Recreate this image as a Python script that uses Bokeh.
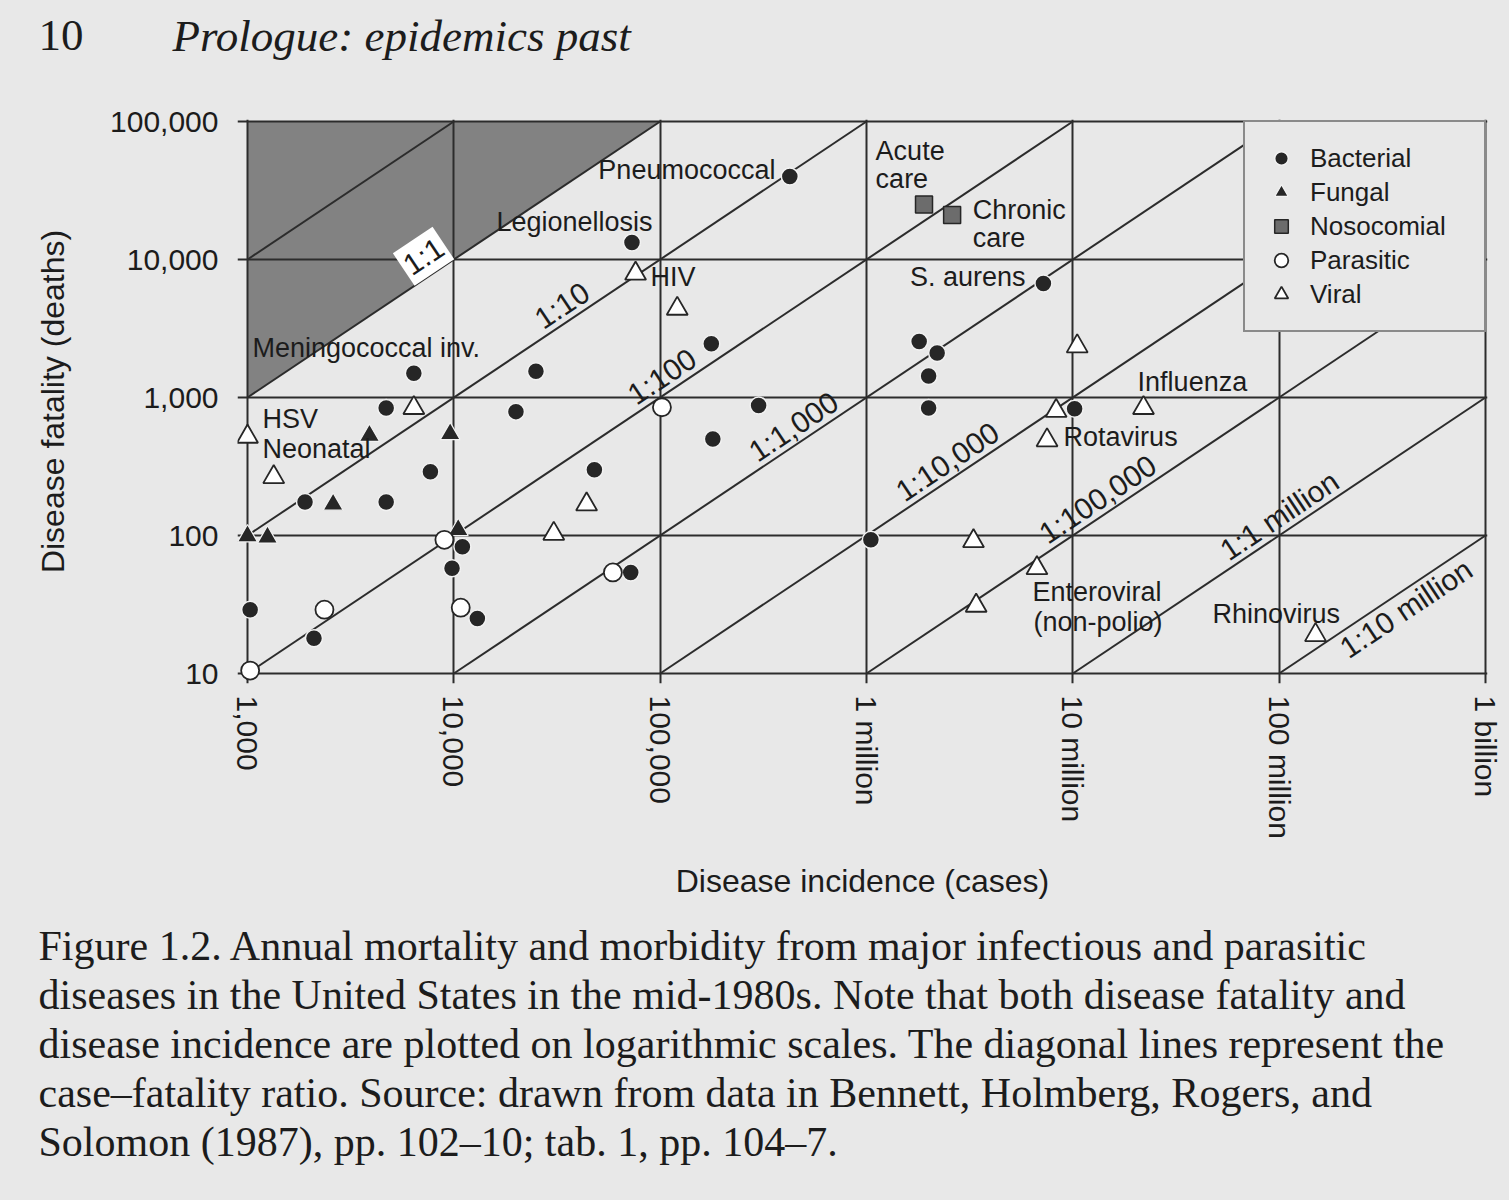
import math
from bokeh.plotting import figure
from bokeh.layouts import column
from bokeh.models import FixedTicker, Label, Legend, LegendItem, Range1d
from bokeh.core.properties import value
from bokeh.embed import file_html
from bokeh.resources import INLINE

# ------------------------------------------------------------------ data
incidence_ticks = [1e3, 1e4, 1e5, 1e6, 1e7, 1e8, 1e9]
incidence_tick_labels = ["1,000", "10,000", "100,000", "1 million",
                         "10 million", "100 million", "1 billion"]
fatality_ticks = [10, 100, 1000, 10000, 100000]
fatality_tick_labels = ["10", "100", "1,000", "10,000", "100,000"]

bacterial_cases = [6400, 4700, 7700, 1900, 4700, 1030, 2100, 11000, 9800,
                   25000, 20000, 48000, 13000, 72000, 425000, 177000, 300000,
                   180000, 7.2e6, 1.8e6, 2.2e6, 2.0e6, 2.0e6, 1.02e7, 73000,
                   1.05e6]
bacterial_deaths = [1500, 840, 290, 175, 175, 29, 18, 83, 58,
                    1550, 790, 300, 25, 54, 40000, 2450, 875,
                    500, 6700, 2550, 2100, 1430, 840, 830, 13300,
                    93]
fungal_cases = [3900, 9600, 2600, 1000, 1250, 10500]
fungal_deaths = [530, 545, 168, 99, 97, 110]
nosocomial_cases = [1.9e6, 2.6e6]
nosocomial_deaths = [25000, 21000]
parasitic_cases = [9000, 2360, 1030, 10800, 102000, 59000]
parasitic_deaths = [93, 29, 10.5, 30, 850, 54]
viral_cases = [6400, 1000, 1340, 44000, 30500, 76000, 121000, 1.05e7, 8.3e6,
               7.5e6, 2.2e7, 3.3e6, 6.7e6, 3.4e6, 1.5e8]
viral_deaths = [840, 520, 265, 168, 103, 7900, 4400, 2350, 800,
                490, 840, 91, 58, 31, 19]

# case-fatality ratio lines: deaths = cases * 10**exp
ratio_exponents = [1, 0, -1, -2, -3, -4, -5, -6, -7]
ratio_label_texts = ["1:1", "1:10", "1:100", "1:1,000", "1:10,000",
                     "1:100,000", "1:1 million", "1:10 million"]
ratio_label_exps = [0, -1, -2, -3, -4, -5, -6, -7]
ratio_label_cases = [8050, 37000, 113000, 490000, 2.73e6, 1.46e7, 1.11e8, 3.72e8]

annot_texts = ["Pneumococcal", "Legionellosis", "Acute", "care", "Chronic",
               "care", "S. aurens", "HIV", "Meningococcal inv.", "HSV",
               "Neonatal", "Influenza", "Rotavirus", "Enteroviral",
               "(non-polio)", "Rhinovirus"]

header_texts = ["10", "Prologue: epidemics past"]
caption_lines = [
    "Figure 1.2. Annual mortality and morbidity from major infectious and parasitic",
    "diseases in the United States in the mid-1980s. Note that both disease fatality and",
    "disease incidence are plotted on logarithmic scales. The diagonal lines represent the",
    "case\u2013fatality ratio. Source: drawn from data in Bennett, Holmberg, Rogers, and",
    "Solomon (1987), pp. 102\u201310; tab. 1, pp. 104\u20137.",
]

# ------------------------------------------------------------------ geometry / style
PAPER = "#e8e8e8"
INK = "#1c1c1c"
LINE = "#2c2c2c"
SANS = "Liberation Sans"
SERIF = "Liberation Serif"

W = 1509
H_HEAD, H_MAIN, H_CAP = 100, 815, 285

XMIN, XMAX = incidence_ticks[0], incidence_ticks[-1]
YMIN, YMAX = fatality_ticks[0], fatality_ticks[-1]
B_LEFT, B_RIGHT, B_TOP, B_BOTTOM = 237, 22, 19, 232
PAD_L, PAD_B, PAD_R, PAD_T = 10, 10, 2, 2
frame_w = W - B_LEFT - B_RIGHT
frame_h = H_MAIN - B_TOP - B_BOTTOM
pxd_x = (frame_w - PAD_L - PAD_R) / math.log10(XMAX / XMIN)
pxd_y = (frame_h - PAD_T - PAD_B) / math.log10(YMAX / YMIN)
x_range = (XMIN * 10 ** (-PAD_L / pxd_x), XMAX * 10 ** (PAD_R / pxd_x))
y_range = (YMIN * 10 ** (-PAD_B / pxd_y), YMAX * 10 ** (PAD_T / pxd_y))
theta = math.atan2(pxd_y, pxd_x)

p = figure(width=W, height=H_MAIN, x_axis_type="log", y_axis_type="log",
           x_range=x_range, y_range=y_range, output_backend="svg",
           toolbar_location=None, min_border_left=B_LEFT,
           min_border_right=B_RIGHT, min_border_top=B_TOP,
           min_border_bottom=B_BOTTOM)
p.background_fill_color = PAPER
p.border_fill_color = PAPER
p.outline_line_color = None

# decade grid (its lines also stick out past the data box like ticks)
for g, t in ((p.xgrid[0], incidence_ticks), (p.ygrid[0], fatality_ticks)):
    g.ticker = FixedTicker(ticks=t)
    g.grid_line_color = LINE
    g.grid_line_width = 2
    g.grid_line_alpha = 1

xa, ya = p.xaxis[0], p.yaxis[0]
xa.ticker = FixedTicker(ticks=incidence_ticks)
ya.ticker = FixedTicker(ticks=fatality_ticks)
xa.major_label_overrides = {int(t): l for t, l in zip(incidence_ticks, incidence_tick_labels)}
ya.major_label_overrides = {int(t): l for t, l in zip(fatality_ticks, fatality_tick_labels)}
xa.major_label_orientation = "vertical"
for ax in (xa, ya):
    ax.axis_line_color = None
    ax.major_tick_line_color = None
    ax.minor_tick_line_color = None
    ax.major_tick_out = 0
    ax.major_tick_in = 0
    ax.major_label_text_font = SANS
    ax.major_label_text_font_size = "30px"
    ax.major_label_text_color = INK
    ax.axis_label_text_font = SANS
    ax.axis_label_text_font_size = "32px"
    ax.axis_label_text_font_style = "normal"
    ax.axis_label_text_color = INK
xa.major_label_standoff = 12
ya.major_label_standoff = 19
xa.axis_label = "Disease incidence (cases)"
ya.axis_label = "Disease fatality (deaths)"
xa.axis_label_standoff = 21
ya.axis_label_standoff = 36

# shaded region: fatality above incidence (ratio above 1:1)
p.patch([XMIN, YMAX, XMIN], [XMIN, YMAX, YMAX], fill_color="#828282",
        line_color=None, level="image")

# case-fatality diagonals clipped to the data box
x0s, y0s, x1s, y1s = [], [], [], []
for e in ratio_exponents:
    k = 10.0 ** e
    a0 = max(XMIN, YMIN / k)
    a1 = min(XMAX, YMAX / k)
    x0s.append(a0); y0s.append(a0 * k)
    x1s.append(a1); y1s.append(a1 * k)
p.segment(x0s, y0s, x1s, y1s, line_color=LINE, line_width=2)

# ratio labels along the lines
for txt, e, cx in zip(ratio_label_texts, ratio_label_exps, ratio_label_cases):
    below = txt == "1:10 million"
    lab = Label(x=cx, y=cx * 10.0 ** e, text=txt, angle=theta, angle_units="rad",
                text_align="center", text_baseline="top" if below else "bottom",
                text_font=SANS, text_font_size="30px", text_color=INK)
    if txt == "1:1":
        lab.background_fill_color = "white"
        lab.padding = 3
    p.add_layout(lab)

# data points
halo = "#f2f2f2"
r_b = p.scatter(bacterial_cases, bacterial_deaths, marker="circle", size=17,
                fill_color="#262626", line_color=halo, line_width=1.5)
r_f = p.scatter(fungal_cases, fungal_deaths, marker="triangle", size=20,
                fill_color="#262626", line_color=halo, line_width=1.2)
r_n = p.scatter(nosocomial_cases, nosocomial_deaths, marker="square", size=17,
                fill_color="#6c6c6c", line_color="#262626", line_width=1.5)
r_p = p.scatter(parasitic_cases, parasitic_deaths, marker="circle", size=18,
                fill_color="white", line_color="#262626", line_width=1.8)
r_v = p.scatter(viral_cases, viral_deaths, marker="triangle", size=21,
                fill_color="white", line_color="#262626", line_width=1.8)

# disease annotations (anchor in cases / deaths, alignment)
annot_anchor = [(3.62e5, 4.42e4, "right"), (9.18e4, 1.87e4, "right"),
                (1.107e6, 6.11e4, "left"), (1.107e6, 3.80e4, "left"),
                (3.27e6, 2.30e4, "left"), (3.27e6, 1.42e4, "left"),
                (5.90e6, 7.53e3, "right"), (8.98e4, 7.41e3, "left"),
                (1057, 2290, "left"), (1182, 693, "left"), (1182, 420, "left"),
                (2.06e7, 1285, "left"), (9.02e6, 521, "left"),
                (6.38e6, 39.0, "left"), (6.45e6, 23.8, "left"),
                (4.75e7, 27.0, "left")]
for txt, (ax_, ay_, al) in zip(annot_texts, annot_anchor):
    p.add_layout(Label(x=ax_, y=ay_, text=txt, text_align=al,
                       text_baseline="middle", text_font=SANS,
                       text_font_size="27px", text_color=INK))

legend = Legend(items=[LegendItem(label="Bacterial", renderers=[r_b]),
                       LegendItem(label="Fungal", renderers=[r_f]),
                       LegendItem(label="Nosocomial", renderers=[r_n]),
                       LegendItem(label="Parasitic", renderers=[r_p]),
                       LegendItem(label="Viral", renderers=[r_v])],
                location="top_right", margin=1, padding=19, spacing=0,
                glyph_height=34, glyph_width=34, label_height=34,
                label_width=155, label_standoff=12,
                label_text_font=SANS, label_text_font_size="26px",
                label_text_color=INK, border_line_color=LINE,
                border_line_width=2, background_fill_color=PAPER,
                background_fill_alpha=1)
p.add_layout(legend)


# ------------------------------------------------------------------ page header & caption
def text_strip(height):
    f = figure(width=W, height=height, x_range=Range1d(0, W),
               y_range=Range1d(height, 0), output_backend="svg",
               toolbar_location=None, x_axis_location=None,
               y_axis_location=None, min_border=0, frame_align=False)
    f.background_fill_color = PAPER
    f.border_fill_color = PAPER
    f.outline_line_color = None
    f.grid.visible = False
    return f

head = text_strip(H_HEAD)
head.text(x=[38], y=[35], text=[header_texts[0]], text_font=value(SERIF),
          text_font_size="45px", text_color=INK, text_baseline="middle")
head.text(x=[172], y=[35], text=[header_texts[1]], text_font=value(SERIF),
          text_font_style="italic", text_font_size="45px", text_color=INK,
          text_baseline="middle")

cap = text_strip(H_CAP)
cap.text(x=[38] * len(caption_lines),
         y=[30 + 49 * i for i in range(len(caption_lines))],
         text=caption_lines, text_font=value(SERIF), text_font_size="42px",
         text_color=INK, text_baseline="middle")

page = column(head, p, cap, spacing=0, styles={"background-color": PAPER})
open("out.html", "w").write(file_html(page, INLINE))
